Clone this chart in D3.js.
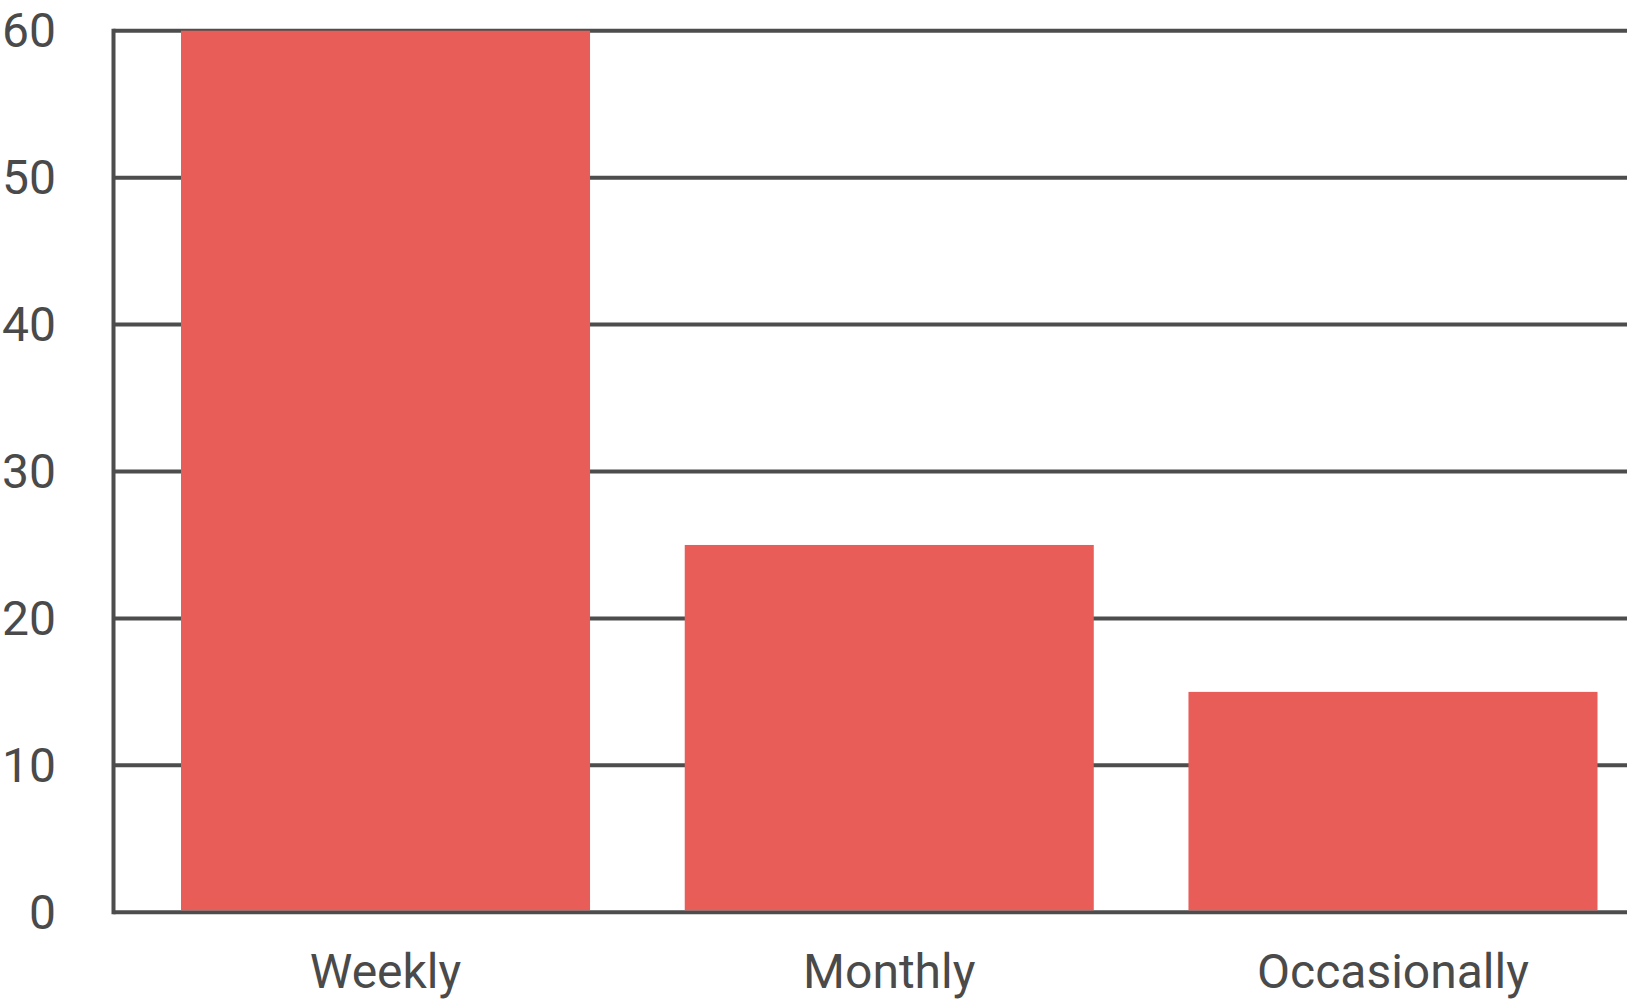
<!DOCTYPE html>
<html><head><meta charset="utf-8">
<script src="https://cdn.jsdelivr.net/npm/d3@7"></script>
<style>
html,body{margin:0;padding:0;background:#fff;}
svg text{font-family:Roboto,"DejaVu Sans",sans-serif;fill:#4a4a4a;}
</style></head>
<body>
<svg id="chart" width="1627" height="1000"></svg>
<script>
const categories = ["Weekly", "Monthly", "Occasionally"];
const values = [60, 25, 15];
const yTicks = [0, 10, 20, 30, 40, 50, 60];

(function () {
const svg = d3.select("#chart");
const mLeft = 113.5, mRight = 1665, mTop = 30.7, mBottom = 912.3;
const gridColor = "#4d4d4d";

const x = d3.scaleBand().domain(categories).range([mLeft, mRight])
  .paddingInner(0.188).paddingOuter(0.134);
const y = d3.scaleLinear().domain([0, 60]).range([mBottom, mTop]);

// gridlines
svg.append("g").selectAll("line").data(yTicks).join("line")
  .attr("x1", mLeft).attr("x2", 1627)
  .attr("y1", d => y(d)).attr("y2", d => y(d))
  .attr("stroke", gridColor).attr("stroke-width", 4);

// y axis line
svg.append("line").attr("x1", mLeft).attr("x2", mLeft)
  .attr("y1", y(60) - 2).attr("y2", y(0) + 2)
  .attr("stroke", gridColor).attr("stroke-width", 4);

// bars
svg.append("g").selectAll("rect").data(values).join("rect")
  .attr("x", (d, i) => x(categories[i]))
  .attr("width", x.bandwidth())
  .attr("y", d => y(d))
  .attr("height", d => y(0) - y(d) - 2)
  .attr("fill", "#e85d57");

// y labels
svg.append("g").selectAll("text").data(yTicks).join("text")
  .attr("x", 56).attr("y", d => y(d))
  .attr("text-anchor", "end").attr("dominant-baseline", "central")
  .attr("font-size", 48)
  .text(d => d);

// x labels
svg.append("g").selectAll("text").data(categories).join("text")
  .attr("x", d => x(d) + x.bandwidth() / 2).attr("y", 988)
  .attr("text-anchor", "middle")
  .attr("font-size", 48)
  .text(d => d);
})();
</script>
</body></html>
